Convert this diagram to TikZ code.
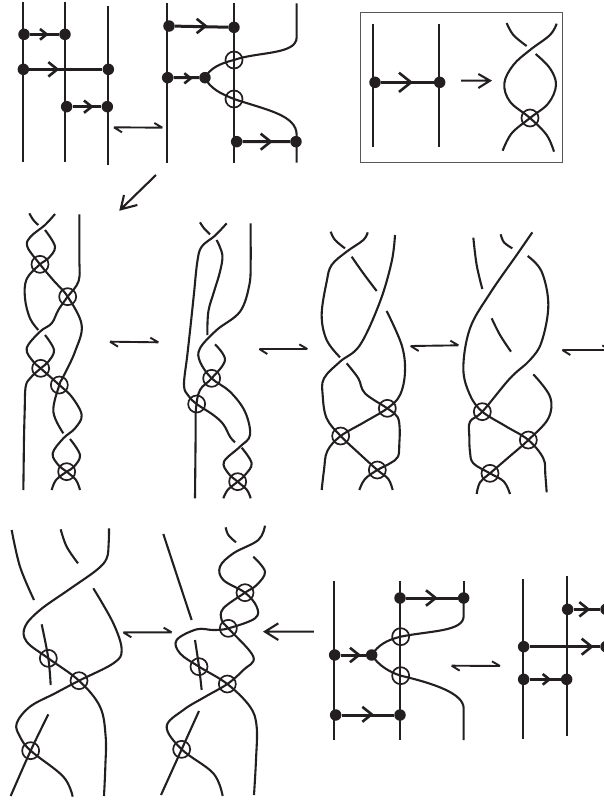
\documentclass[tikz,border=0pt]{standalone}
\definecolor{ink}{HTML}{231F20}
\tikzset{
  strand/.style={draw=ink,line width=2.1pt,line cap=butt,line join=round},
  stem/.style={draw=ink,line width=2.3pt},
  bond/.style={draw=ink,line width=3pt},
  dotn/.style={circle,fill=ink,draw=none,minimum size=11.5pt,inner sep=0pt},
  vcirc/.style={circle,draw=ink,line width=1.7pt,minimum size=17pt,inner sep=0pt},
  chevl/.style={draw=ink,line width=2.6pt,line join=miter},
  harpl/.style={draw=ink,line width=1.9pt},
  zoomed/.style={x=.33333pt,y=-.33333pt}
}
\newcommand{\stp}[1]{\draw[strand] plot[smooth,tension=.6] coordinates {#1};}
\newcommand{\chev}[3]{\draw[chevl] (#1-#3,#2-.8*#3) -- (#1,#2) -- (#1-#3,#2+.8*#3);}
\newcommand{\harp}[2]{\draw[harpl] (#1) -- (#2) (#1) -- ++(24,15) (#2) -- ++(-24,-14);}
\begin{document}
\begin{tikzpicture}[x=1pt,y=-1pt]
\useasboundingbox (0,0) rectangle (604,801);
\clip (0,0) rectangle (604,801);

% ---------- top row, left
\begin{scope}[zoomed]
\draw[stem] (68,7) -- (68,485) (195,7) -- (195,485) (325,17) -- (325,495);
\node[dotn] (a1) at (72,103) {}; \node[dotn] (a2) at (195,103) {};
\node[dotn] (a3) at (70,208) {}; \node[dotn] (a4) at (325,208) {};
\node[dotn] (a5) at (200,320) {}; \node[dotn] (a6) at (322,320) {};
\draw[bond] (a1) -- (a2) (a3) -- (a4) (a5) -- (a6);
\chev{140}{103}{20} \chev{172}{208}{27} \chev{275}{320}{23}

\draw[stem] (500,10) -- (500,488) (702,10) -- (702,488);
\node[dotn] (b1) at (507,78) {}; \node[dotn] (b2) at (702,82) {};
\node[dotn] (b3) at (503,233) {}; \node[dotn] (b4) at (615,233) {};
\node[dotn] (b5) at (710,425) {}; \node[dotn] (b6) at (888,425) {};
\draw[bond] (b1) -- (b2) (b3) -- (b4) (b5) -- (b6);
\chev{617}{78}{27} \chev{572}{235}{19} \chev{812}{425}{30}
\node[vcirc] (b7) at (702,180) {}; \node[vcirc] (b8) at (702,297) {};
\draw[strand] (890,10) -- (890,112) .. controls (890,165) and (770,155) .. (b7.center) .. controls (660,190) and (630,205) .. (b4.center);
\draw[strand] (b4.center) .. controls (630,265) and (660,280) .. (b8.center) .. controls (800,330) and (890,345) .. (890,405) -- (890,488);

\coordinate (h1l) at (342,382); \coordinate (h1r) at (487,383);
\harp{h1l}{h1r}
\coordinate (d1) at (468,525); \coordinate (d2) at (362,628);
\coordinate (d3) at (372,585); \coordinate (d4) at (412,615);
\draw[harpl,line width=2.1pt] (d1) -- (d2) (d3) -- (d2) -- (d4);
\end{scope}

% ---------- boxed rule
\begin{scope}[zoomed,xshift=350pt]
\node[draw=ink!75,line width=1pt,minimum width=201.5pt,minimum height=149.5pt,inner sep=0pt,fill=none] (box) at (335,262.5) {};
\draw[stem] (70,72) -- (70,440) (268,72) -- (268,440);
\node[dotn] (r1) at (75,247) {}; \node[dotn] (r2) at (269,247) {};
\draw[bond] (r1) -- (r2);
\chev{183}{247}{36}
\coordinate (ra) at (333,242); \coordinate (rb) at (420,242);
\coordinate (rc) at (385,222); \coordinate (rd) at (385,264);
\draw[harpl,line width=2.1pt] (ra) -- (rb) (rc) -- (rb) -- (rd);
\node[vcirc] (r3) at (540,354) {};
\stp{(470,69)(490,105)(530,138)}
\stp{(620,71)(600,105)(540,150)(490,195)(463,250)(480,305)(540,354)(590,405)(612,455)}
\stp{(557,162)(600,205)(618,255)(595,310)(540,354)(485,400)(458,452)}
\end{scope}

% ---------- row 2, diagram A and B
\begin{scope}[zoomed,yshift=-205pt]
\node[vcirc] (c1) at (120,178) {}; \node[vcirc] (c2) at (203,275) {};
\node[vcirc] (c3) at (122,490) {}; \node[vcirc] (c4) at (178,540) {};
\node[vcirc] (c5) at (200,800) {};
\stp{(88,25)(100,45)(115,60)}
\stp{(165,27)(135,60)(92,95)(82,125)(120,178)(162,228)(203,275)(245,360)(225,440)(190,515)(178,540)(160,620)(190,685)}
\stp{(135,75)(165,125)(145,160)(120,178)(80,222)(75,280)(90,340)(115,375)}
\stp{(238,28)(238,90)(238,160)(236,228)(203,275)(175,315)(155,355)(120,380)(80,430)(100,470)(122,490)(178,540)(215,575)(245,630)(225,670)(190,700)(158,745)(175,780)(200,800)(228,825)(240,855)}
\stp{(135,390)(162,435)(145,470)(122,490)(92,518)(77,545)(74,620)(72,700)(71,780)(70,855)}
\stp{(210,702)(240,750)(222,785)(200,800)(168,825)(155,855)}

\coordinate (h2l) at (330,410); \coordinate (h2r) at (475,412);
\harp{h2l}{h2r}

\node[vcirc] (e1) at (635,520) {}; \node[vcirc] (e2) at (590,597) {};
\node[vcirc] (e3) at (713,830) {};
\stp{(600,52)(612,70)(630,88)}
\stp{(680,55)(645,92)(605,125)(592,170)(582,265)(572,360)(562,450)(552,540)(565,572)(590,597)(640,630)(670,658)(690,695)(705,712)}
\stp{(650,105)(667,150)(660,200)(642,260)(625,320)(622,390)}
\stp{(645,418)(675,465)(635,520)(600,555)(588,610)(587,680)(586,780)(585,880)}
\stp{(752,55)(752,110)(752,170)(748,240)(720,320)(650,375)(600,430)(600,470)(635,520)(690,560)(735,620)(750,690)(720,725)(672,770)(685,805)(713,830)(741,855)(752,880)}
\stp{(725,728)(755,775)(735,810)(713,830)(683,855)(670,880)}

\coordinate (h3l) at (778,432); \coordinate (h3r) at (922,432);
\harp{h3l}{h3r}
\end{scope}

% ---------- row 2, diagram C and D
\begin{scope}[zoomed,xshift=300pt,yshift=-205pt]
\node[vcirc] (f1) at (262,610) {}; \node[vcirc] (f2) at (122,693) {};
\node[vcirc] (f3) at (232,795) {};
\stp{(92,80)(105,105)(135,130)}
\stp{(203,82)(190,105)(140,140)(95,180)(80,230)(65,330)(80,405)(120,457)}
\stp{(155,155)(190,205)(230,258)}
\stp{(285,90)(275,170)(240,290)(180,420)(120,470)(72,520)(68,570)(80,640)(122,693)(177,745)(232,795)(265,822)(278,855)}
\stp{(140,475)(175,520)(195,565)(262,610)(292,635)(299,670)(298,715)(294,755)(270,775)(232,795)(195,822)(178,855)}
\stp{(260,318)(305,420)(315,500)(300,570)(262,610)(192,652)(122,693)(82,738)(72,795)(65,855)}

\coordinate (h4l) at (332,423); \coordinate (h4r) at (475,421);
\harp{h4l}{h4r}

\node[vcirc] (g1) at (547,620) {}; \node[vcirc] (g2) at (685,705) {};
\node[vcirc] (g3) at (570,805) {};
\stp{(520,98)(530,180)(547,252)}
\stp{(602,88)(612,112)(637,130)}
\stp{(697,82)(650,150)(570,265)(510,370)(490,490)(510,570)(547,620)(616,663)(685,705)(730,760)(736,810)(740,862)}
\stp{(575,340)(600,390)(633,440)}
\stp{(683,153)(725,200)(745,300)(725,410)(690,465)(630,520)(547,620)(510,650)(508,695)(510,740)(520,775)(570,805)(612,830)(630,867)}
\stp{(700,508)(750,575)(745,640)(685,705)(628,755)(570,805)(540,832)(530,867)}

\coordinate (h5l) at (787,435); \coordinate (h5r) at (931,435);
\harp{h5l}{h5r}
\end{scope}

% ---------- row 3, diagrams E and F
\begin{scope}[zoomed,yshift=-510pt]
\node[vcirc] (k1) at (145,445) {}; \node[vcirc] (k2) at (237,512) {};
\node[vcirc] (k3) at (92,722) {};
\stp{(35,60)(60,170)(102,270)}
\stp{(182,58)(200,110)(234,160)}
\stp{(327,55)(326,100)(320,145)(290,180)(205,240)(120,300)(75,350)(80,395)(145,445)(237,512)(300,590)(317,680)(316,770)(312,858)}
\stp{(280,235)(340,340)(365,420)(340,460)(237,512)(165,550)(90,590)(50,640)(60,680)(92,722)(190,800)(218,860)}
\stp{(125,343)(145,445)(152,525)}
\stp{(145,613)(92,722)(32,858)}

\coordinate (h6l) at (370,367); \coordinate (h6r) at (515,367);
\harp{h6l}{h6r}

\node[vcirc] (m1) at (735,248) {}; \node[vcirc] (m2) at (685,355) {};
\node[vcirc] (m3) at (597,470) {}; \node[vcirc] (m4) at (682,522) {};
\node[vcirc] (m5) at (545,718) {};
\stp{(490,72)(532,200)(575,330)}
\stp{(677,52)(685,75)(708,97)}
\stp{(795,47)(775,90)(700,130)(660,170)(670,210)(735,248)(770,290)(765,325)(685,355)(640,360)(590,358)(530,390)(540,430)(597,470)(682,522)(750,590)(770,650)(768,750)(762,855)}
\stp{(760,140)(795,185)(770,225)(735,248)(670,295)(665,330)(685,355)(760,440)(730,480)(682,522)(616,560)(550,600)(500,650)(545,718)(640,790)(668,858)}
\stp{(585,390)(597,470)(605,540)}
\stp{(597,603)(545,718)(483,855)}

\coordinate (n1) at (942,365); \coordinate (n2) at (795,365);
\coordinate (n3) at (835,340); \coordinate (n4) at (835,390);
\draw[harpl,line width=2.1pt] (n1) -- (n2) (n3) -- (n2) -- (n4);
\end{scope}

% ---------- row 3, diagrams G and H
\begin{scope}[zoomed,xshift=300pt,yshift=-510pt]
\draw[stem] (101,212) -- (101,690) (301,212) -- (301,690);
\node[dotn] (p1) at (300,264) {}; \node[dotn] (p2) at (491,264) {};
\node[dotn] (p3) at (104,435) {}; \node[dotn] (p4) at (215,435) {};
\node[dotn] (p5) at (107,615) {}; \node[dotn] (p6) at (300,615) {};
\draw[bond] (p1) -- (p2) (p3) -- (p4) (p5) -- (p6);
\chev{407}{264}{29} \chev{177}{435}{27} \chev{215}{613}{28}
\node[vcirc] (p7) at (302,380) {}; \node[vcirc] (p8) at (302,497) {};
\draw[stem] (491,212) -- (491,264);
\draw[strand] (491,264) -- (491,318) .. controls (491,365) and (390,362) .. (p7.center) .. controls (260,390) and (235,405) .. (p4.center);
\draw[strand] (p4.center) .. controls (235,465) and (265,485) .. (p8.center) .. controls (400,520) and (491,550) .. (491,595) -- (491,690);

\coordinate (h7l) at (455,467); \coordinate (h7r) at (600,468);
\harp{h7l}{h7r}

\draw[stem] (670,208) -- (670,687) (800,198) -- (800,677);
\node[dotn] (q1) at (803,298) {}; \node[dotn] (q2) at (918,298) {};
\node[dotn] (q3) at (671,410) {}; \node[dotn] (q4) at (918,410) {};
\node[dotn] (q5) at (671,508) {}; \node[dotn] (q6) at (800,508) {};
\draw[bond] (q1) -- (q2) (q3) -- (q4) (q5) -- (q6);
\chev{865}{298}{27} \chev{875}{410}{30} \chev{748}{508}{20}
\end{scope}
\end{tikzpicture}
\end{document}
